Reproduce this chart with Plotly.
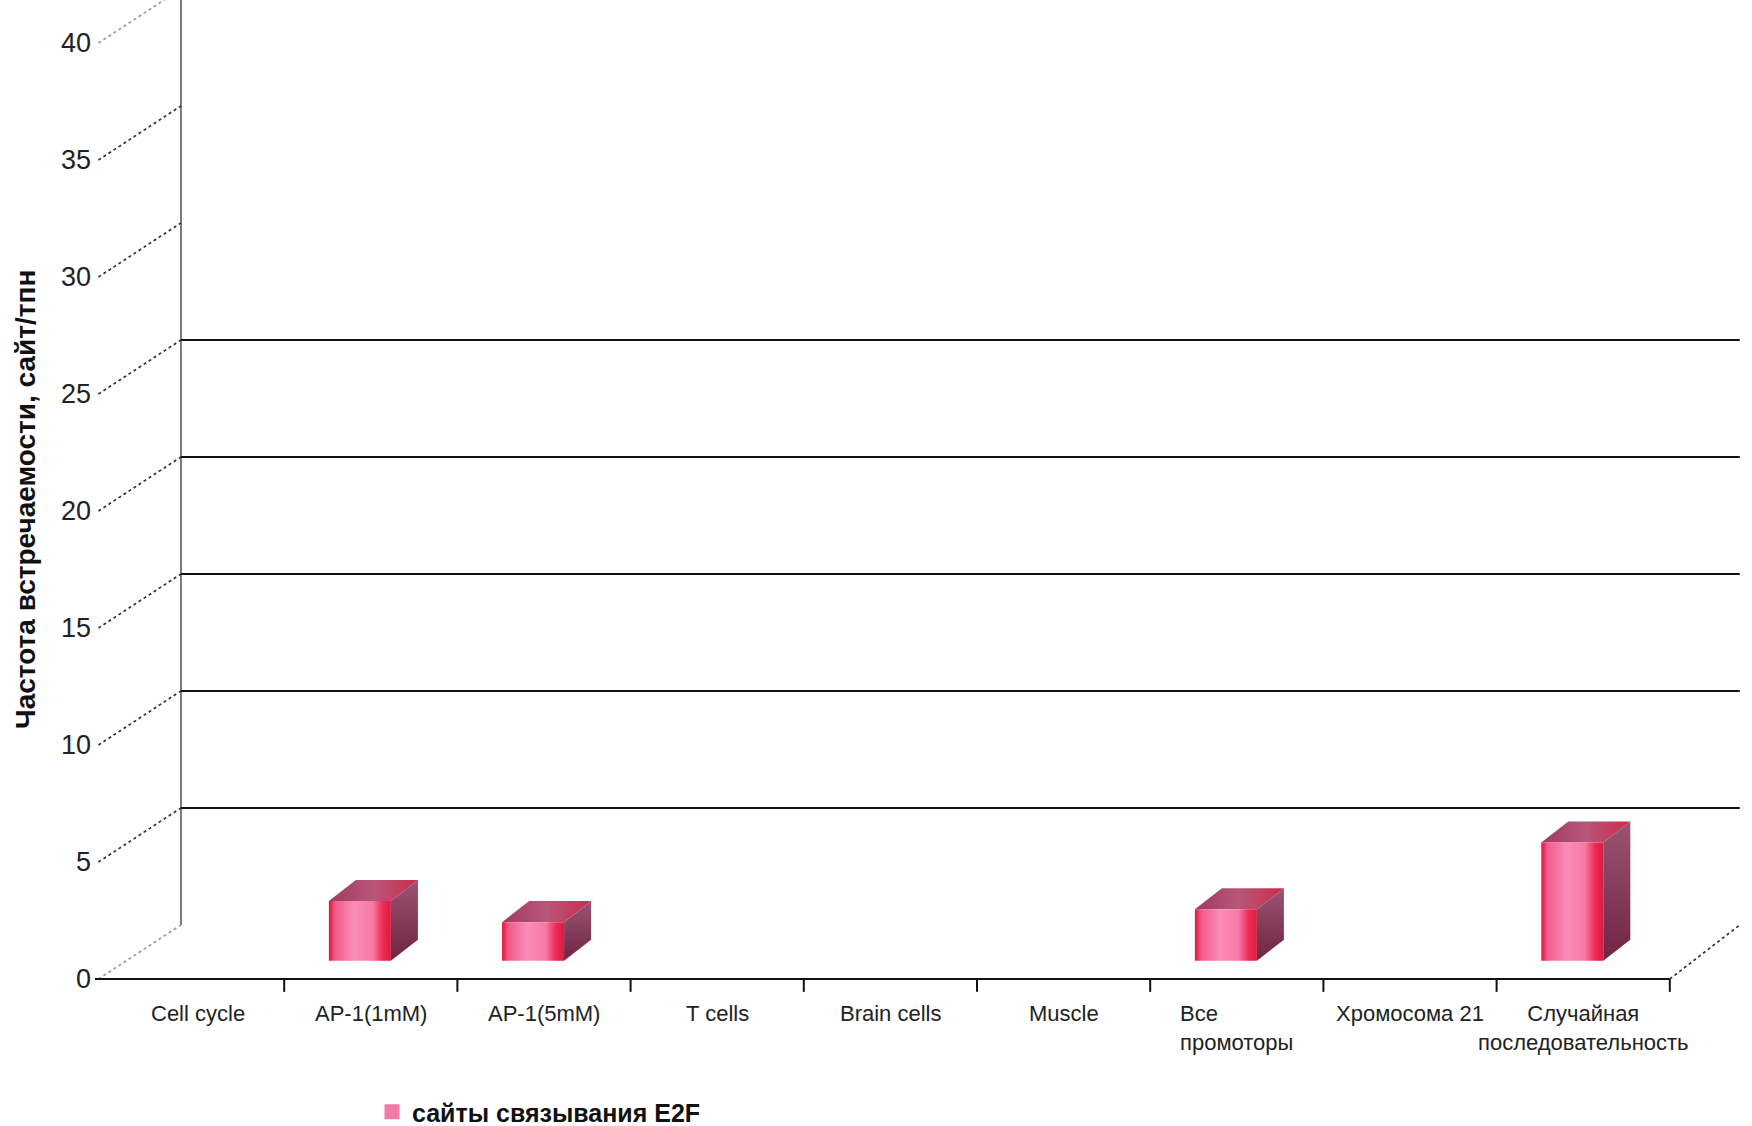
import plotly.graph_objects as go

# ---- data -------------------------------------------------------------
categories = [
    "Cell cycle", "AP-1(1mM)", "AP-1(5mM)", "T cells", "Brain cells",
    "Muscle", "Все<br>промоторы", "Хромосома 21",
    "Случайная<br>последовательность",
]
label_align = ["center"] * 6 + ["left", "center", "center"]
e2f_sites = [0, 2.55, 1.65, 0, 0, 0, 2.2, 0, 5.05]
y_ticks = [0, 5, 10, 15, 20, 25, 30, 35, 40]
wall_grid = [5, 10, 15, 20, 25]
series_name = "сайты связывания E2F"
y_title = "Частота встречаемости, сайт/тпн"

# ---- pseudo-3D geometry (in axis units) --------------------------------
W, H = 1752, 1126
PX_PER_CAT = 173.2
PX_PER_UNIT = 23.4
FRONT_X0_PX = 111
FRONT_Y0_PX = 979
ML = 95
MB = 133
Y_LO = -(H - MB - FRONT_Y0_PX) / PX_PER_UNIT

X_LO = -(FRONT_X0_PX - ML) / PX_PER_CAT
X_HI = X_LO + (W - ML) / PX_PER_CAT
Y_HI = FRONT_Y0_PX / PX_PER_UNIT

DX, DY = 0.404, 2.31          # wall depth offset
BAR_SHIFT = -0.063            # bar front centre relative to category centre
BAR_HALF = 0.179
BAR_BASE = 0.78
BAR_DX, BAR_DY = 0.156, 0.9   # bar depth offset

FONT = "Liberation Sans, Arial, sans-serif"
n = len(categories)

fig = go.Figure()


def seg(x, y, color, width, dash="solid"):
    fig.add_trace(go.Scatter(
        x=x, y=y, mode="lines", hoverinfo="skip", showlegend=False,
        line=dict(color=color, width=width, dash=dash)))


# back wall vertical edge
seg([DX, DX], [DY, Y_HI + 1], "#7a7a7a", 2)
# back wall gridlines
for v in wall_grid:
    seg([DX, n + DX], [v + DY, v + DY], "#111111", 2)
# receding tick guides from the front value axis to the back wall
for v in y_ticks:
    c = "#9a9a9a" if v in (0, 40) else "#333333"
    seg([X_LO + 0.02, DX], [v, v + DY], c, 1.7, "dot")
# floor right edge
seg([n, n + DX], [0, DY], "#333333", 1.7, "dot")
# front category axis and boundary ticks
seg([X_LO, n], [0, 0], "#111111", 2.2)
for b in range(1, n + 1):
    seg([b, b], [0, -0.55], "#111111", 2)

front_scale = [[0, "#e4123c"], [0.1, "#f25b8a"], [0.4, "#f98cb8"],
               [0.7, "#f77aa6"], [0.87, "#ee2a52"], [1, "#d61d44"]]
top_scale = [[0, "#a03a60"], [0.5, "#b8567a"], [1, "#cc2a4c"]]
side_scale = [[0, "#6f2443"], [1, "#9a5474"]]


def face(xs, ys, scale, gtype, fallback):
    fig.add_trace(go.Scatter(
        x=xs + [xs[0]], y=ys + [ys[0]], mode="lines", fill="toself",
        fillcolor=fallback, fillgradient=dict(type=gtype, colorscale=scale),
        line=dict(width=0, color=fallback), hoverinfo="skip", showlegend=False))


for i, v in enumerate(e2f_sites):
    if v <= 0:
        continue
    cx = i + 0.5 + BAR_SHIFT
    x0, x1 = cx - BAR_HALF, cx + BAR_HALF
    y0, y1 = BAR_BASE, BAR_BASE + v
    # side face
    face([x1, x1 + BAR_DX, x1 + BAR_DX, x1],
         [y0, y0 + BAR_DY, y1 + BAR_DY, y1], side_scale, "vertical", "#8a4062")
    # top face
    face([x0, x1, x1 + BAR_DX, x0 + BAR_DX],
         [y1, y1, y1 + BAR_DY, y1 + BAR_DY], top_scale, "horizontal", "#c04a70")
    # front face
    face([x0, x1, x1, x0], [y0, y0, y1, y1], front_scale, "horizontal", "#f27aa6")

# legend entry
fig.add_trace(go.Scatter(
    x=[None], y=[None], mode="markers", name=f"<b>{series_name}</b>",
    marker=dict(symbol="square", size=15, color="#f07aa8")))

# category labels
for i, (lab, al) in enumerate(zip(categories, label_align)):
    fig.add_annotation(
        x=i + 0.5, y=0, xref="x", yref="y", text=lab, showarrow=False,
        xanchor="center", yanchor="top", yshift=-20, align=al,
        font=dict(family=FONT, size=22, color="#222222"))

plot_h = H - MB
fig.add_annotation(
    text=f"<b>{y_title}</b>", textangle=-90, showarrow=False,
    xref="paper", yref="paper", x=(25 - ML) / (W - ML),
    y=(plot_h - 500) / plot_h, xanchor="center", yanchor="middle",
    font=dict(family=FONT, size=28, color="#111111"))

fig.update_layout(
    width=W, height=H, autosize=False,
    margin=dict(l=ML, r=0, t=0, b=MB, pad=0, autoexpand=False),
    paper_bgcolor="white", plot_bgcolor="white",
    showlegend=True,
    legend=dict(x=(372 - ML) / (W - ML), y=(plot_h - 1112) / plot_h,
                xanchor="left", yanchor="middle", bgcolor="rgba(0,0,0,0)",
                font=dict(family=FONT, size=25, color="#111111"),
                itemwidth=30),
    xaxis=dict(range=[X_LO, X_HI], showgrid=False, zeroline=False,
               showline=False, showticklabels=False, ticks="",
               automargin=False),
    yaxis=dict(range=[Y_LO, Y_HI], showgrid=False, zeroline=False,
               showline=False, ticks="", tickvals=y_ticks,
               ticktext=[str(t) for t in y_ticks], ticklabelstandoff=3,
               automargin=False,
               tickfont=dict(family=FONT, size=27, color="#222222")),
)

fig.write_html("out.html")
